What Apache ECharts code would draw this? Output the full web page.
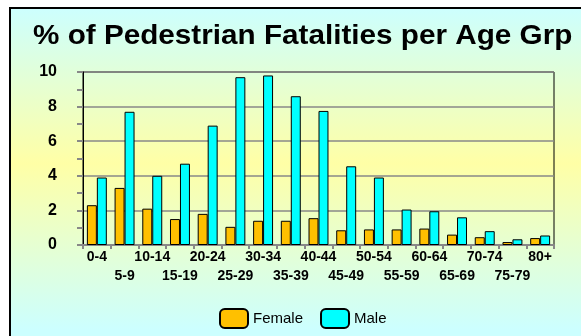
<!DOCTYPE html>
<html>
<head>
<meta charset="utf-8">
<script src="https://cdn.jsdelivr.net/npm/echarts@6/dist/echarts.min.js"></script>
<style>
  html, body { margin: 0; padding: 0; background: #fff; }
  #main { width: 581px; height: 336px; }
</style>
</head>
<body>
<div id="main"></div>
<script>
// age groups and % of fatalities per group
var ageGroups = ['0-4', '5-9', '10-14', '15-19', '20-24', '25-29', '30-34', '35-39', '40-44',
  '45-49', '50-54', '55-59', '60-64', '65-69', '70-74', '75-79', '80+'];
var female = [2.3, 3.3, 2.1, 1.5, 1.8, 1.05, 1.4, 1.4, 1.55, 0.85, 0.9, 0.9, 0.95, 0.6, 0.45, 0.17, 0.4];
var male = [3.9, 7.7, 4.0, 4.7, 6.9, 9.7, 9.8, 8.6, 7.75, 4.55, 3.9, 2.05, 1.95, 1.6, 0.8, 0.33, 0.55];
var yTicks = [0, 2, 4, 6, 8, 10];

var chart = echarts.init(document.getElementById('main'));
var font = 'Arial, "Liberation Sans", sans-serif';

chart.setOption({
  animation: false,
  textStyle: { fontFamily: font },
  graphic: [
    {
      // yellow/cyan backdrop with the black frame
      type: 'rect',
      z: -10,
      shape: { x: 10, y: 8, width: 600, height: 345 },
      style: {
        fill: new echarts.graphic.LinearGradient(0, 0, 0, 1, [
          { offset: 0, color: '#CCFFFF' },
          { offset: 0.45, color: '#FFFFA6' },
          { offset: 0.93, color: '#CCFFFF' },
          { offset: 1, color: '#CCFFFF' }
        ]),
        stroke: '#000',
        lineWidth: 2
      }
    },
    {
      type: 'text',
      x: 33,
      y: 22,
      scaleX: 1.06,
      style: {
        text: '% of Pedestrian Fatalities per Age Grp',
        font: 'bold 28px ' + font,
        fill: '#000'
      }
    }
  ],
  legend: {
    left: 214,
    top: 303,
    itemWidth: 28,
    itemHeight: 19,
    itemGap: 17,
    textStyle: { fontSize: 15, color: '#000' },
    data: ['Female', 'Male']
  },
  grid: { left: 83, right: 27, top: 72, bottom: 91, show: true, borderColor: '#000', borderWidth: 1 },
  xAxis: {
    type: 'category',
    data: ageGroups,
    axisLine: { lineStyle: { color: '#888', width: 2 } },
    axisTick: { show: true, length: 4, lineStyle: { color: '#888', width: 2 } },
    axisLabel: {
      interval: 0,
      color: '#000',
      fontWeight: 'bold',
      fontSize: 14,
      lineHeight: 19,
      margin: 3,
      formatter: function (v, i) { return i % 2 ? '\n' + v : v; }
    }
  },
  yAxis: {
    type: 'value',
    min: yTicks[0],
    max: yTicks[yTicks.length - 1],
    interval: 2,
    axisLine: { show: true, lineStyle: { color: '#000', width: 1 } },
    axisTick: { show: true, length: 6, lineStyle: { color: '#888', width: 2 } },
    minorTick: { show: true, splitNumber: 2, length: 6, lineStyle: { color: '#888', width: 2 } },
    splitLine: { lineStyle: { color: '#888', width: 1.5 } },
    axisLabel: { color: '#000', fontWeight: 'bold', fontSize: 16, margin: 26 }
  },
  series: [
    {
      name: 'Female',
      type: 'bar',
      data: female,
      barGap: '0%',
      barCategoryGap: '28%',
      itemStyle: { color: '#FFC000', borderColor: '#000', borderWidth: 1 }
    },
    {
      name: 'Male',
      type: 'bar',
      data: male,
      itemStyle: { color: '#00FFFF', borderColor: '#000', borderWidth: 1 }
    }
  ]
});
</script>
</body>
</html>
